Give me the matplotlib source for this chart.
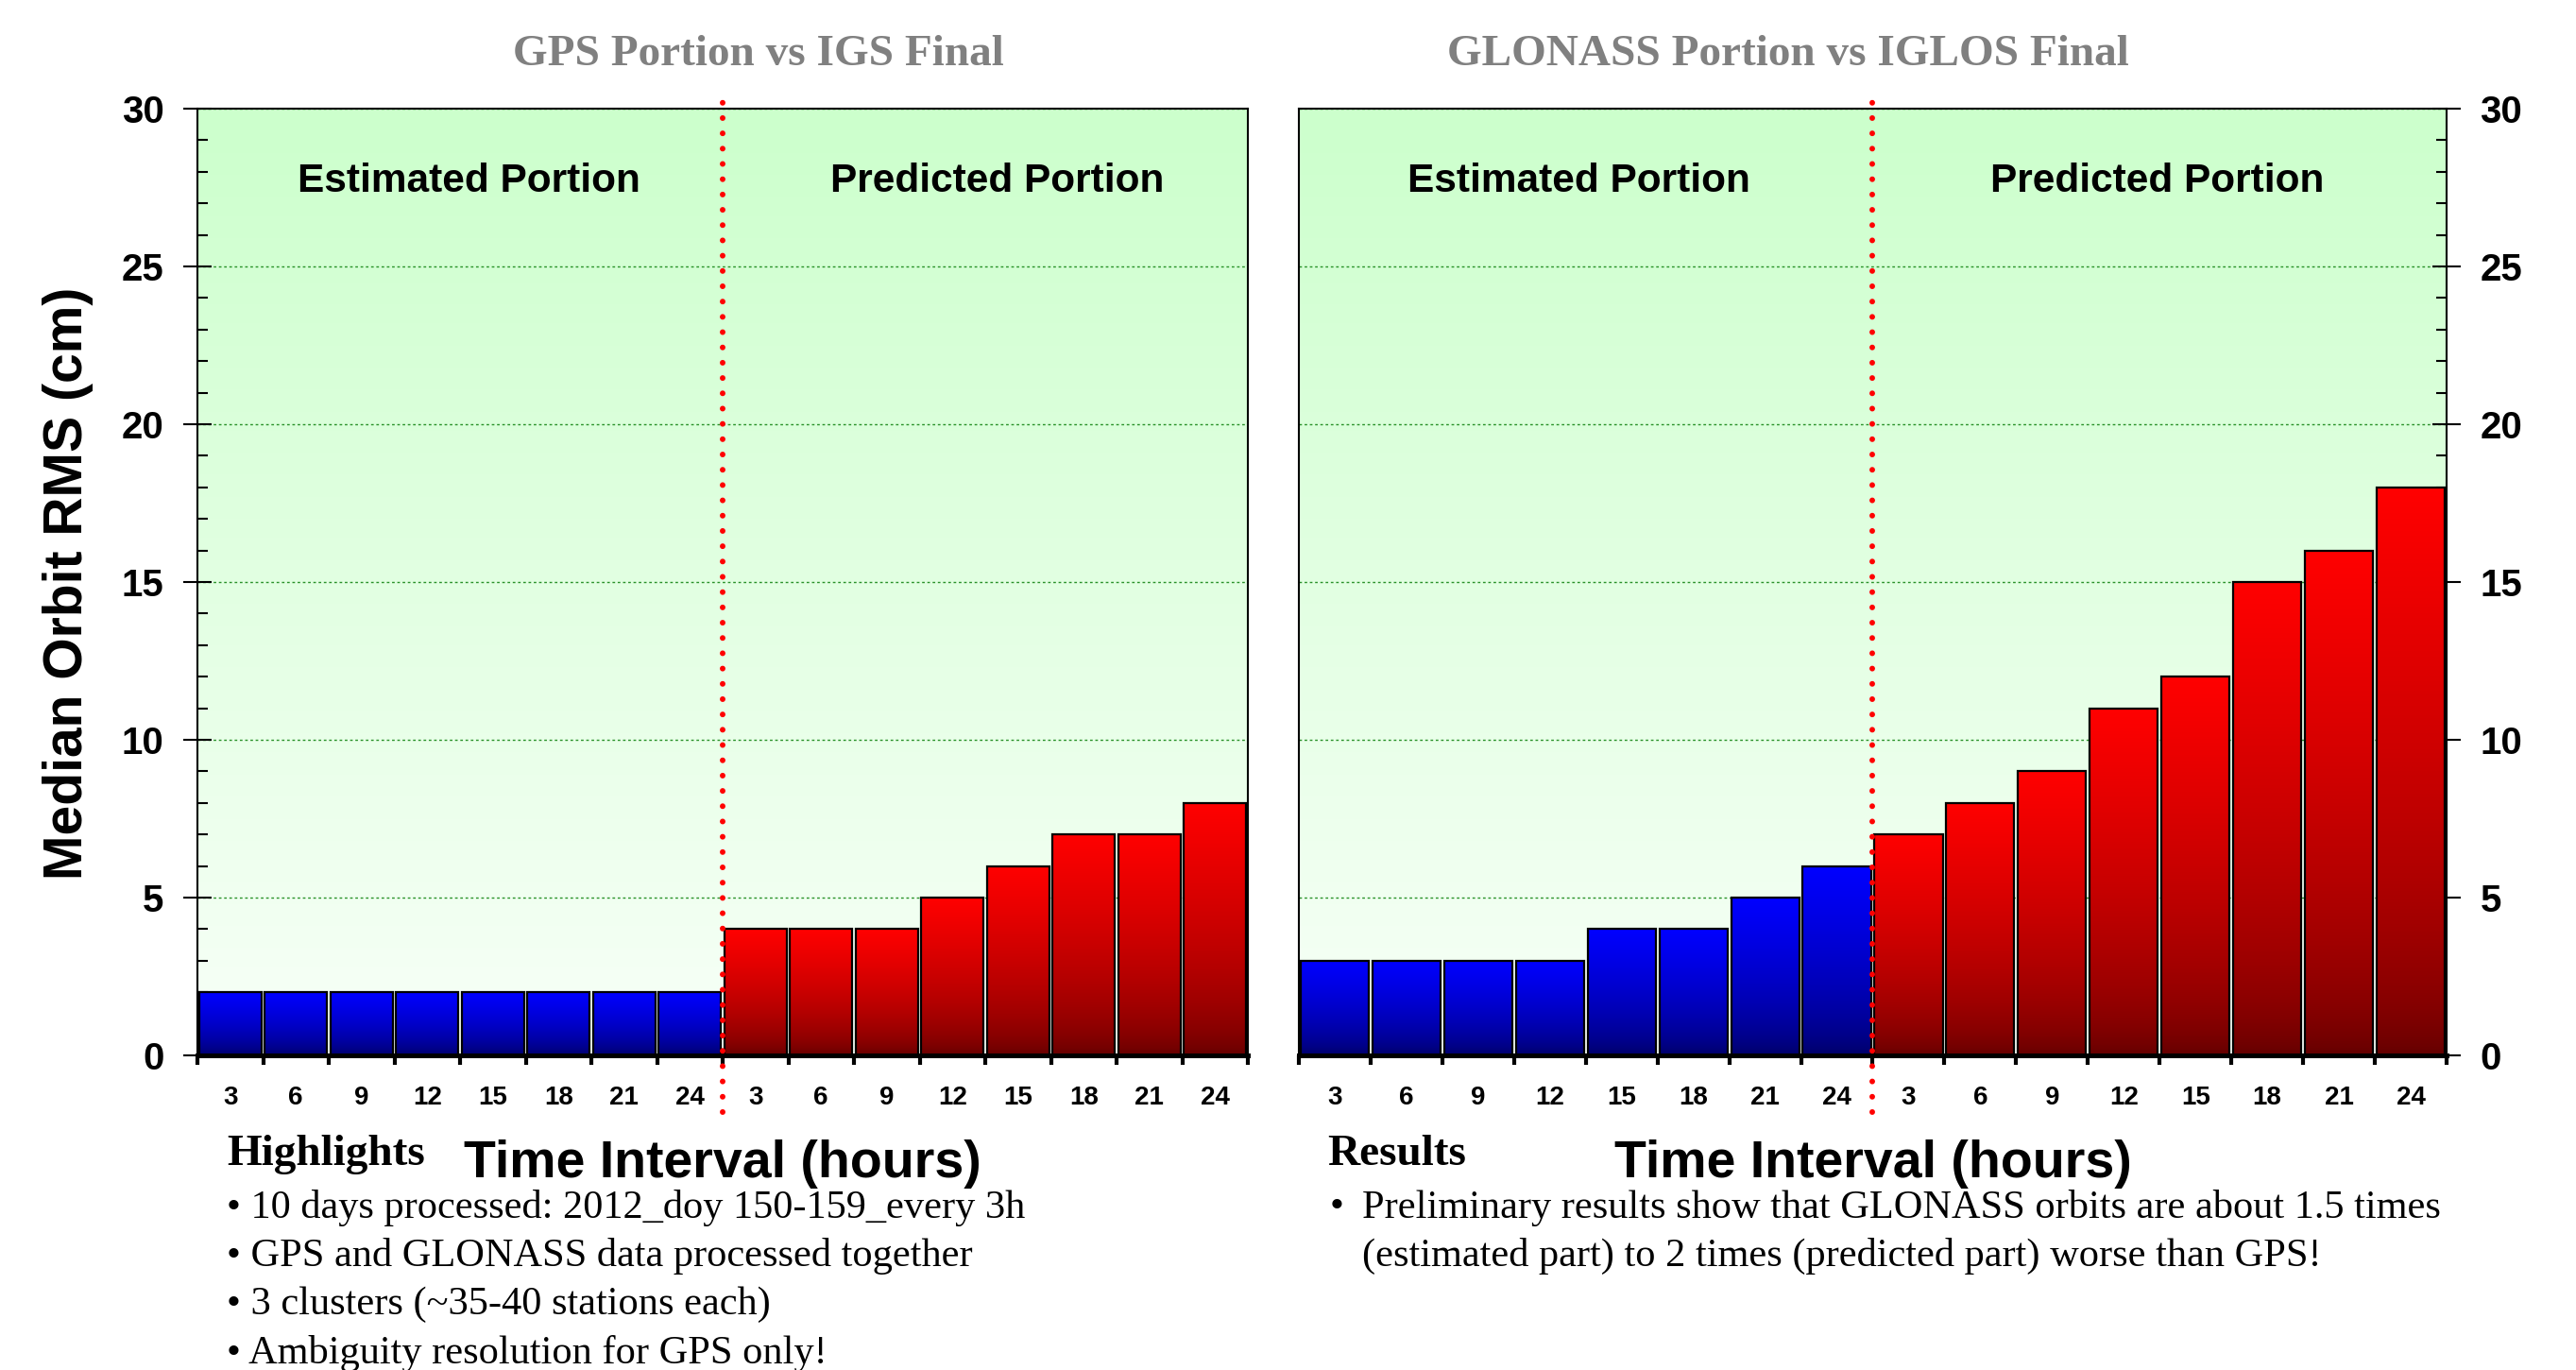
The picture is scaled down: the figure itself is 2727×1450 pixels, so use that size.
import matplotlib
matplotlib.use('Agg')
import matplotlib.pyplot as plt
import numpy as np
from matplotlib.colors import LinearSegmentedColormap

hours = [3, 6, 9, 12, 15, 18, 21, 24]
gps_est = [2, 2, 2, 2, 2, 2, 2, 2]
gps_pred = [4, 4, 4, 5, 6, 7, 7, 8]
glo_est = [3, 3, 3, 3, 4, 4, 5, 6]
glo_pred = [7, 8, 9, 11, 12, 15, 16, 18]

titles = ['GPS Portion vs IGS Final', 'GLONASS Portion vs IGLOS Final']
highlights = ['\u2022 10 days processed: 2012_doy 150-159_every 3h',
              '\u2022 GPS and GLONASS data processed together',
              '\u2022 3 clusters (~35-40 stations each)',
              '\u2022 Ambiguity resolution for GPS only!']
results = ['Preliminary results show that GLONASS orbits are about 1.5 times',
           '(estimated part) to 2 times (predicted part) worse than GPS!']

SANS = 'Liberation Sans'
SERIF = 'Liberation Serif'

bg_cmap = LinearSegmentedColormap.from_list('bg', ['#f8fff8', '#ccffcc'])
blue_cmap = LinearSegmentedColormap.from_list('b', ['#000060', '#0000ff'])
red_cmap = LinearSegmentedColormap.from_list('r', ['#600000', '#ff0000'])

fig = plt.figure(figsize=(27.27, 14.5), dpi=100)
ax1 = fig.add_axes([209 / 2727, 333 / 1450, 1112 / 2727, 1002 / 1450])
ax2 = fig.add_axes([1375 / 2727, 333 / 1450, 1215 / 2727, 1002 / 1450])

grad = np.linspace(0, 1, 256) ** 0.6
grad = grad.reshape(-1, 1)


def draw_panel(ax, est, pred, right=False, text_shift=(0, 0)):
    vals = est + pred
    n = len(vals)
    x = np.arange(n) + 0.5
    bg = np.linspace(0, 1, 256).reshape(-1, 1)
    ax.imshow(bg, cmap=bg_cmap, origin='lower', extent=[0, n, 0, 30],
              aspect='auto', zorder=0)
    bars = ax.bar(x, vals, width=0.95, facecolor='none', edgecolor='black',
                  linewidth=1.6, zorder=3)
    for i, b in enumerate(bars):
        cm = blue_cmap if i < len(est) else red_cmap
        ax.imshow(grad, cmap=cm, origin='lower', aspect='auto', zorder=2,
                  extent=[b.get_x(), b.get_x() + b.get_width(), 0, b.get_height()])
    ax.set_xlim(0, n)
    ax.set_ylim(0, 30)

    # grid
    ax.set_yticks(np.arange(0, 31, 5))
    ax.set_yticks(np.arange(0, 31, 1), minor=True)
    ax.yaxis.grid(True, which='major', color='#2a922a', linestyle=(0, (2, 2)),
                  linewidth=1.0, zorder=1)
    ax.set_axisbelow(True)

    # x ticks at boundaries, labels at centres
    ax.set_xticks(np.arange(0, n + 1))
    ax.set_xticklabels([])
    ax.set_xticks(x, minor=True)
    ax.set_xticklabels([str(h) for h in hours + hours], minor=True,
                       fontfamily=SANS, fontweight='bold', fontsize=20)
    ax.tick_params(axis='x', which='major', direction='out', length=7,
                   width=3, color='black')
    ax.tick_params(axis='x', which='minor', length=0, pad=23)

    if right:
        ax.yaxis.tick_right()
    ax.tick_params(axis='y', which='major', direction='inout', length=21,
                   width=1.5, pad=15, labelsize=29)
    ax.tick_params(axis='y', which='minor', direction='in', length=8,
                   width=1.5)
    for lab in ax.get_yticklabels():
        lab.set_fontfamily(SANS)
        lab.set_fontweight('bold')

    for s in ['left', 'right', 'top']:
        ax.spines[s].set_linewidth(1.5)
    ax.spines['bottom'].set_linewidth(3.6)

    # divider between estimated and predicted parts
    ax.plot([len(est), len(est)], [-1.8, 30.3], color='red', linewidth=4.3,
            linestyle=(0, (0.01, 2.7)), dash_capstyle='round',
            clip_on=False, zorder=6)

    ax.text(len(est) / 2 + text_shift[0], 27.7, 'Estimated Portion',
            ha='center', va='center', fontfamily=SANS, fontweight='bold',
            fontsize=30.5, zorder=5)
    ax.text(len(est) + len(pred) / 2 + text_shift[1], 27.7, 'Predicted Portion',
            ha='center', va='center', fontfamily=SANS, fontweight='bold',
            fontsize=30.5, zorder=5)


draw_panel(ax1, gps_est, gps_pred, text_shift=(0.13, 0.18))
draw_panel(ax2, glo_est, glo_pred, right=True, text_shift=(-0.1, -0.03))

fig.text(803 / 2727, 1 - 58 / 1450, titles[0], ha='center', va='center',
         color='#808080', fontfamily=SERIF, fontweight='bold', fontsize=34)
fig.text(1893 / 2727, 1 - 58 / 1450, titles[1], ha='center', va='center',
         color='#808080', fontfamily=SERIF, fontweight='bold', fontsize=34)

fig.text(72 / 2727, 1 - 617 / 1450, 'Median Orbit RMS (cm)', rotation=90,
         ha='center', va='center', fontfamily=SANS, fontweight='bold',
         fontsize=41)

for ax in (ax1, ax2):
    pos = ax.get_position()
    fig.text(pos.x0 + pos.width / 2, 1 - 1232 / 1450, 'Time Interval (hours)',
             ha='center', va='center', fontfamily=SANS, fontweight='bold',
             fontsize=40)

fig.text(240 / 2727, 1 - 1222 / 1450, 'Highlights', ha='left', va='center',
         fontfamily=SERIF, fontweight='bold', fontsize=34)
for i, line in enumerate(highlights):
    fig.text(240 / 2727, 1 - (1278 + 51.5 * i) / 1450, line, ha='left',
             va='center', fontfamily=SERIF, fontsize=30.5)

fig.text(1405 / 2727, 1 - 1222 / 1450, 'Results', ha='left', va='center',
         fontfamily=SERIF, fontweight='bold', fontsize=34)
fig.text(1408 / 2727, 1 - 1278 / 1450, '\u2022', ha='left', va='center',
         fontfamily=SERIF, fontsize=30.5)
for i, line in enumerate(results):
    fig.text(1442 / 2727, 1 - (1278 + 51.5 * i) / 1450, line, ha='left',
             va='center', fontfamily=SERIF, fontsize=30.5)

fig.savefig('out.png', dpi=100)
